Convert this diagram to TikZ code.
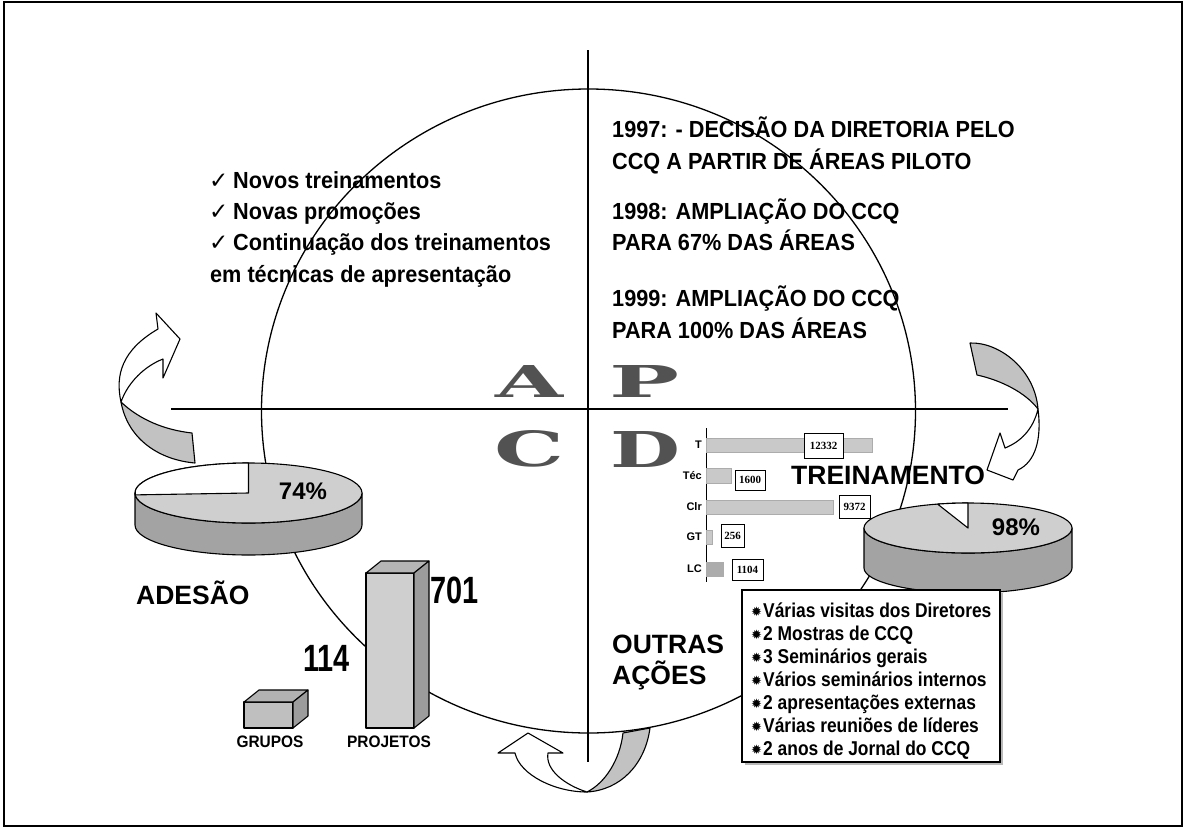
\documentclass[tikz,border=0pt]{standalone}
\usepackage{fontspec}
\setmainfont{Liberation Sans}
\newfontfamily\txtf[FakeStretch=0.93]{Liberation Sans}
\newfontfamily\boxf[FakeStretch=0.87]{Liberation Sans}
\newfontfamily\numf[FakeStretch=0.76]{Liberation Sans}
\newfontfamily\serf{Liberation Serif}
\newfontfamily\serfh{DejaVu Serif}
\newfontfamily\symf{DejaVu Sans}
\newcommand\apcdletter[3]{\resizebox{#1}{#2}{\serfh\bfseries #3}}
\begin{document}
\begin{tikzpicture}[x=1pt,y=-1pt,
  every node/.style={inner sep=0pt},
  bigtxt/.style={font=\txtf\bfseries\fontsize{23.3}{28}\selectfont, anchor=base west},
  chk/.style={font=\symf\fontsize{23}{24}\selectfont, anchor=base west},
  lbl/.style={font=\bfseries\fontsize{26.5}{30}\selectfont, anchor=base west},
  pct/.style={font=\bfseries\fontsize{24}{28}\selectfont},
  boxtxt/.style={font=\boxf\bfseries\fontsize{20}{24}\selectfont, anchor=base west},
  bignum/.style={font=\numf\bfseries\fontsize{38}{40}\selectfont, anchor=base west},
  smalltxt/.style={font=\txtf\bfseries\fontsize{16.6}{20}\selectfont, anchor=base},
  barlbl/.style={font=\bfseries\fontsize{11}{12}\selectfont, anchor=east},
  barval/.style={font=\serf\bfseries\fontsize{11}{12}\selectfont, draw=black, fill=white, line width=0.8pt},
  hbar/.style={fill=gray!42, draw=gray!65, line width=0.4pt},
  axisline/.style={line width=1.2pt},
  edge/.style={draw=black, line width=1.1pt, line join=round},
  bigletter/.style={text=black!68},
]
\useasboundingbox (0,0) rectangle (1187,828);
\fill[white] (0,0) rectangle (1187,828);
\draw[line width=1.4pt] (4,2) rectangle (1182,826);

% big cycle
\draw[line width=1.3pt] (588.5,411) ellipse [x radius=327, y radius=322];

% axes
\coordinate (vt) at (588,50); \coordinate (vb) at (588,762);
\coordinate (hl) at (171,409); \coordinate (hr) at (1008,409);
\draw[axisline] (vt) -- (vb);
\draw[axisline] (hl) -- (hr);

% top-left list
\node[chk] (c1) at (209,188.5) {✓};
\node[bigtxt] (t1) at (233,188.5) {Novos treinamentos};
\node[chk] (c2) at (209,219.5) {✓};
\node[bigtxt] (t2) at (233,219.5) {Novas promoções};
\node[chk] (c3) at (209,250.5) {✓};
\node[bigtxt] (t3) at (233,250.5) {Continuação dos treinamentos};
\node[bigtxt] (t4) at (210,282) {em técnicas de apresentação};

% top-right text
\node[bigtxt] (r1) at (612,137.5) {1997: - DECISÃO DA DIRETORIA PELO};
\node[bigtxt] (r2) at (612,169.5) {CCQ A PARTIR DE ÁREAS PILOTO};
\node[bigtxt] (r3) at (612,219.5) {1998: AMPLIAÇÃO DO CCQ};
\node[bigtxt] (r4) at (612,250.5) {PARA 67\% DAS ÁREAS};
\node[bigtxt] (r5) at (612,306.5) {1999: AMPLIAÇÃO DO CCQ};
\node[bigtxt] (r6) at (612,338.5) {PARA 100\% DAS ÁREAS};

% APCD letters
\node[bigletter] (LA) at (530,381) {\apcdletter{68pt}{32pt}{A}};
\node[bigletter] (LP) at (645,381) {\apcdletter{70pt}{32pt}{P}};
\node[bigletter] (LC) at (530,449) {\apcdletter{70pt}{36pt}{C}};
\node[bigletter] (LD) at (645,449) {\apcdletter{70pt}{36pt}{D}};

% bar chart
\draw[line width=0.8pt] (706,428) -- (706,582);
\draw[hbar] (706,438) rectangle (872,452);
\draw[hbar] (706,468) rectangle (731,483);
\draw[hbar] (706,500) rectangle (833,514);
\draw[hbar] (706,530) rectangle (712,544);
\draw[hbar, fill=gray!65] (706,562) rectangle (723,576);
\node[barlbl] (bT) at (702,445) {T};
\node[barlbl] (bTec) at (702,476) {Téc};
\node[barlbl] (bClr) at (702,507) {Clr};
\node[barlbl] (bGT) at (702,537) {GT};
\node[barlbl] (bLC) at (702,569) {LC};
\node[barval, minimum width=39pt, minimum height=25pt] (v1) at (823.5,445.5) {12332};
\node[barval, minimum width=30pt, minimum height=20pt] (v2) at (750,480) {1600};
\node[barval, minimum width=31pt, minimum height=23pt] (v3) at (854.5,506.5) {9372};
\node[barval, minimum width=23pt, minimum height=23pt] (v4) at (732.5,535.5) {256};
\node[barval, minimum width=31pt, minimum height=21pt] (v5) at (747.5,569.5) {1104};

% labels
\node[lbl] (trein) at (791,484) {TREINAMENTO};
\node[lbl] (ades) at (136,604.5) {ADESÃO};
\node[lbl] (outr) at (612,653.5) {OUTRAS};
\node[lbl] (acoe) at (612,684.5) {AÇÕES};

% left pie
\path[fill=gray!72, edge] (362,493) arc[start angle=0, end angle=180, x radius=113.5, y radius=30] -- (135,525) arc[start angle=180, end angle=0, x radius=113.5, y radius=30] -- cycle;
\path[fill=gray!38, edge] (248.5,493) ellipse [x radius=113.5, y radius=30];
\path[fill=white, edge] (248.5,493) -- (248.5,463) arc[start angle=-90, end angle=-183.6, x radius=113.5, y radius=30] -- cycle;
\node[pct] (p74) at (303,491) {74\%};

% right pie
\path[fill=gray!72, edge] (1072,528) arc[start angle=0, end angle=180, x radius=104, y radius=25] -- (864,568) arc[start angle=180, end angle=0, x radius=104, y radius=25] -- cycle;
\path[fill=gray!38, edge] (968,528) ellipse [x radius=104, y radius=25];
\path[fill=white, edge] (968,528) -- (968,503) arc[start angle=-90, end angle=-107, x radius=104, y radius=25] -- cycle;
\node[pct] (p98) at (1016,527) {98\%};

% 3D columns
\path[fill=gray!50, edge] (244,702) rectangle (293,728);
\path[fill=gray!60, edge] (244,702) -- (259,690) -- (308,690) -- (293,702) -- cycle;
\path[fill=gray!78, edge] (293,702) -- (308,690) -- (308,716) -- (293,728) -- cycle;
\path[fill=gray!38, edge] (366,573) rectangle (414,728);
\path[fill=gray!58, edge] (366,573) -- (381,561) -- (429,561) -- (414,573) -- cycle;
\path[fill=gray!78, edge] (414,573) -- (429,561) -- (429,716) -- (414,728) -- cycle;
\node[smalltxt] (grp) at (270,747) {GRUPOS};
\node[smalltxt] (prj) at (389,747) {PROJETOS};
\node[bignum] (n701) at (430,603) {701};
\node[bignum] (n114) at (303,671) {114};

% left ribbon arrow
\path[fill=gray!48, edge] (121,402) .. controls (140,420) and (165,430) .. (192,433) -- (195,463) .. controls (160,460) and (128,440) .. (121,402) -- cycle;
\path[fill=white, edge] (158,329) -- (156,313) -- (180,339) -- (163,378) -- (163,359) .. controls (145,366) and (128,382) .. (121,402) .. controls (115,375) and (122,350) .. (158,329) -- cycle;

% right ribbon arrow
\path[fill=gray!48, edge] (970,343) .. controls (1000,342) and (1035,370) .. (1038,409) .. controls (1025,392) and (1000,380) .. (977,375) -- cycle;
\path[fill=white, edge] (1038,409) .. controls (1042,440) and (1035,462) .. (1018,470) -- (1013,480) -- (987,470) -- (1000,433) -- (1005,448) .. controls (1020,442) and (1033,430) .. (1038,409) -- cycle;

% bottom ribbon arrow
\path[fill=gray!48, edge] (587,792) .. controls (620,790) and (645,765) .. (650,728) -- (623,733) .. controls (620,760) and (605,783) .. (587,792) -- cycle;
\path[fill=white, edge] (587,792) .. controls (555,792) and (520,775) .. (515,753) -- (498,753) -- (528,733) -- (563,753) -- (548,753) .. controls (545,770) and (565,785) .. (587,792) -- cycle;

% other actions box
\fill[gray!55] (745,593) rectangle (1003,765);
\path[fill=white, draw=black, line width=1.2pt] (742,590) rectangle (1000,762);
\foreach \i/\t in {0/Várias visitas dos Diretores, 1/2 Mostras de CCQ, 2/3 Seminários gerais, 3/Vários seminários internos, 4/2 apresentações externas, 5/Várias reuniões de líderes, 6/2 anos de Jornal do CCQ} {
  \node[anchor=base west, font=\symf\fontsize{13}{13}\selectfont] at (751,{616+23*\i}) {✹};
  \node[boxtxt] at (763,{617+23*\i}) {\t};
}
\end{tikzpicture}
\end{document}
